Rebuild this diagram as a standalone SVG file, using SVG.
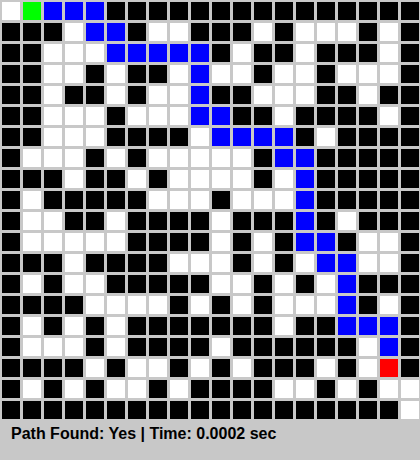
<svg xmlns="http://www.w3.org/2000/svg" width="420" height="460" viewBox="0 0 420 460">
<defs>
<pattern id="pb" width="21" height="21" patternUnits="userSpaceOnUse"><rect x="2" y="2" width="18" height="18" fill="#000"/></pattern>
<pattern id="pw" width="21" height="21" patternUnits="userSpaceOnUse"><rect x="2" y="2" width="18" height="18" fill="#fff"/></pattern>
<pattern id="pp" width="21" height="21" patternUnits="userSpaceOnUse"><rect x="2" y="2" width="18" height="18" fill="#0000ff"/></pattern>
<pattern id="pg" width="21" height="21" patternUnits="userSpaceOnUse"><rect x="2" y="2" width="18" height="18" fill="#00ff00"/></pattern>
<pattern id="pr" width="21" height="21" patternUnits="userSpaceOnUse"><rect x="2" y="2" width="18" height="18" fill="#ff0000"/></pattern>
</defs>
<style>
.b{fill:url(#pb)} .w{fill:url(#pw)} .p{fill:url(#pp)} .g{fill:url(#pg)} .r{fill:url(#pr)}
.status{font-family:"Liberation Sans",Arial,sans-serif;font-size:16px;font-weight:bold;fill:#000}
</style>
<rect x="0" y="0" width="420" height="460" fill="#c8c8c8"/>
<g id="maze">
<rect class="b" x="0" y="0" width="420" height="420"/>
<g id="row0"><rect class="w" x="0" y="0" width="21" height="21"/><rect class="g" x="21" y="0" width="21" height="21"/><rect class="p" x="42" y="0" width="63" height="21"/></g>
<g id="row1"><rect class="w" x="63" y="21" width="21" height="21"/><rect class="p" x="84" y="21" width="42" height="21"/><rect class="w" x="147" y="21" width="42" height="21"/><rect class="w" x="252" y="21" width="21" height="21"/><rect class="w" x="294" y="21" width="63" height="21"/><rect class="w" x="378" y="21" width="21" height="21"/></g>
<g id="row2"><rect class="w" x="42" y="42" width="63" height="21"/><rect class="p" x="105" y="42" width="105" height="21"/><rect class="w" x="231" y="42" width="21" height="21"/><rect class="w" x="294" y="42" width="21" height="21"/><rect class="w" x="378" y="42" width="21" height="21"/></g>
<g id="row3"><rect class="w" x="42" y="63" width="42" height="21"/><rect class="w" x="105" y="63" width="21" height="21"/><rect class="w" x="168" y="63" width="21" height="21"/><rect class="p" x="189" y="63" width="21" height="21"/><rect class="w" x="210" y="63" width="42" height="21"/><rect class="w" x="273" y="63" width="42" height="21"/><rect class="w" x="336" y="63" width="63" height="21"/></g>
<g id="row4"><rect class="w" x="42" y="84" width="21" height="21"/><rect class="w" x="105" y="84" width="21" height="21"/><rect class="w" x="147" y="84" width="42" height="21"/><rect class="p" x="189" y="84" width="21" height="21"/><rect class="w" x="252" y="84" width="63" height="21"/><rect class="w" x="357" y="84" width="21" height="21"/></g>
<g id="row5"><rect class="w" x="42" y="105" width="63" height="21"/><rect class="w" x="126" y="105" width="63" height="21"/><rect class="p" x="189" y="105" width="42" height="21"/><rect class="w" x="273" y="105" width="21" height="21"/><rect class="w" x="378" y="105" width="21" height="21"/></g>
<g id="row6"><rect class="w" x="42" y="126" width="63" height="21"/><rect class="w" x="189" y="126" width="21" height="21"/><rect class="p" x="210" y="126" width="84" height="21"/><rect class="w" x="315" y="126" width="21" height="21"/></g>
<g id="row7"><rect class="w" x="21" y="147" width="63" height="21"/><rect class="w" x="105" y="147" width="21" height="21"/><rect class="w" x="147" y="147" width="105" height="21"/><rect class="p" x="273" y="147" width="42" height="21"/></g>
<g id="row8"><rect class="w" x="63" y="168" width="21" height="21"/><rect class="w" x="126" y="168" width="21" height="21"/><rect class="w" x="168" y="168" width="84" height="21"/><rect class="w" x="273" y="168" width="21" height="21"/><rect class="p" x="294" y="168" width="21" height="21"/></g>
<g id="row9"><rect class="w" x="21" y="189" width="21" height="21"/><rect class="w" x="147" y="189" width="63" height="21"/><rect class="w" x="231" y="189" width="63" height="21"/><rect class="p" x="294" y="189" width="21" height="21"/></g>
<g id="row10"><rect class="w" x="21" y="210" width="42" height="21"/><rect class="w" x="105" y="210" width="21" height="21"/><rect class="w" x="210" y="210" width="21" height="21"/><rect class="p" x="294" y="210" width="21" height="21"/><rect class="w" x="336" y="210" width="21" height="21"/></g>
<g id="row11"><rect class="w" x="21" y="231" width="105" height="21"/><rect class="w" x="210" y="231" width="21" height="21"/><rect class="w" x="252" y="231" width="21" height="21"/><rect class="p" x="294" y="231" width="42" height="21"/><rect class="w" x="357" y="231" width="42" height="21"/></g>
<g id="row12"><rect class="w" x="63" y="252" width="21" height="21"/><rect class="w" x="168" y="252" width="63" height="21"/><rect class="w" x="252" y="252" width="21" height="21"/><rect class="w" x="294" y="252" width="21" height="21"/><rect class="p" x="315" y="252" width="42" height="21"/><rect class="w" x="357" y="252" width="42" height="21"/></g>
<g id="row13"><rect class="w" x="21" y="273" width="21" height="21"/><rect class="w" x="63" y="273" width="42" height="21"/><rect class="w" x="210" y="273" width="42" height="21"/><rect class="w" x="273" y="273" width="21" height="21"/><rect class="w" x="315" y="273" width="21" height="21"/><rect class="p" x="336" y="273" width="21" height="21"/></g>
<g id="row14"><rect class="w" x="84" y="294" width="84" height="21"/><rect class="w" x="189" y="294" width="21" height="21"/><rect class="w" x="231" y="294" width="21" height="21"/><rect class="w" x="273" y="294" width="63" height="21"/><rect class="p" x="336" y="294" width="21" height="21"/><rect class="w" x="378" y="294" width="21" height="21"/></g>
<g id="row15"><rect class="w" x="21" y="315" width="21" height="21"/><rect class="w" x="63" y="315" width="21" height="21"/><rect class="w" x="105" y="315" width="21" height="21"/><rect class="w" x="273" y="315" width="21" height="21"/><rect class="p" x="336" y="315" width="63" height="21"/></g>
<g id="row16"><rect class="w" x="21" y="336" width="63" height="21"/><rect class="w" x="105" y="336" width="21" height="21"/><rect class="w" x="210" y="336" width="21" height="21"/><rect class="w" x="357" y="336" width="21" height="21"/><rect class="p" x="378" y="336" width="21" height="21"/></g>
<g id="row17"><rect class="w" x="84" y="357" width="21" height="21"/><rect class="w" x="126" y="357" width="42" height="21"/><rect class="w" x="189" y="357" width="21" height="21"/><rect class="w" x="231" y="357" width="21" height="21"/><rect class="w" x="315" y="357" width="21" height="21"/><rect class="w" x="357" y="357" width="21" height="21"/><rect class="r" x="378" y="357" width="21" height="21"/></g>
<g id="row18"><rect class="w" x="21" y="378" width="21" height="21"/><rect class="w" x="63" y="378" width="21" height="21"/><rect class="w" x="105" y="378" width="42" height="21"/><rect class="w" x="168" y="378" width="21" height="21"/><rect class="w" x="273" y="378" width="42" height="21"/><rect class="w" x="336" y="378" width="21" height="21"/><rect class="w" x="378" y="378" width="42" height="21"/></g>
<g id="row19"><rect class="w" x="399" y="399" width="21" height="21"/></g>
</g>
<g id="status">
<text class="status" x="11" y="439">Path Found: Yes | Time: 0.0002 sec</text>
</g>
</svg>
